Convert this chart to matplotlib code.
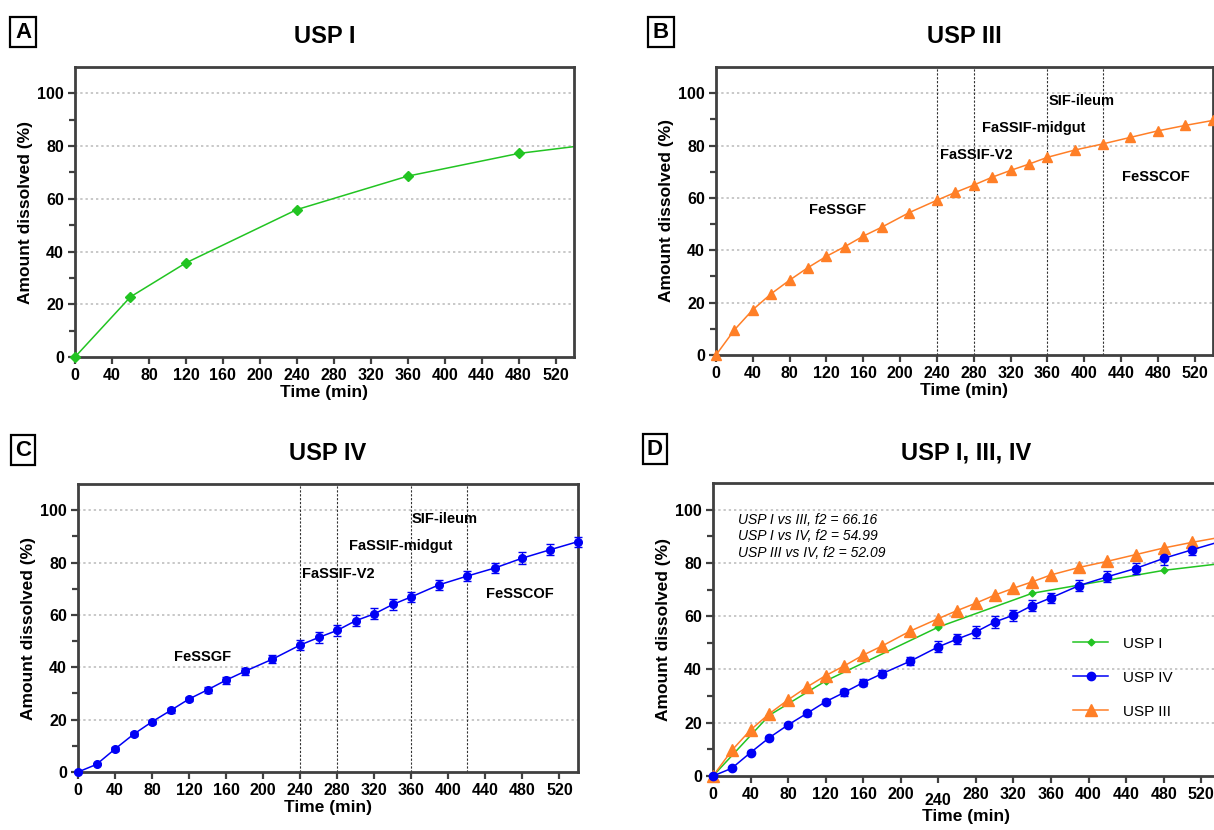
import numpy as np
import matplotlib
matplotlib.use("Agg")
import matplotlib.pyplot as plt
import matplotlib.transforms as mtransforms
from matplotlib.lines import Line2D

plt.rcParams['font.family'] = ['Liberation Sans', 'DejaVu Sans']

# ---- data ----
t_usp1 = [0, 60, 120, 240, 360, 480, 600]
usp1 = [0, 22.8, 35.7, 55.9, 68.6, 77.2, 82.4]

# panel D plots USP I at slightly different times
t_usp1_d = [0, 60, 120, 240, 340, 480, 600]
usp1_d = [0, 22.8, 35.7, 55.9, 68.6, 77.2, 82.2]

t_flow = [0, 20, 40, 60, 80, 100, 120, 140, 160, 180, 210, 240, 260, 280,
          300, 320, 340, 360, 390, 420, 450, 480, 510, 540]
usp3 = [0, 9.6, 17.3, 23.4, 28.6, 33.4, 37.7, 41.4, 45.4, 48.8, 54.4, 59.1,
        62.1, 64.9, 67.9, 70.5, 72.9, 75.5, 78.3, 80.6, 83.1, 85.6, 87.7, 89.6]
usp4 = [0, 2.9, 8.8, 14.4, 19.2, 23.5, 27.9, 31.4, 35.1, 38.4, 43.1, 48.5,
        51.4, 54.1, 57.8, 60.4, 64.0, 66.9, 71.5, 74.8, 77.9, 81.7, 84.9, 88.0]
usp4_err = [0.3, 0.4, 0.6, 0.7, 0.7, 0.8, 0.9, 1.2, 1.3, 1.4, 1.6, 2.0,
            2.0, 2.2, 2.1, 2.1, 2.2, 1.8, 2.0, 2.0, 2.0, 2.3, 2.0, 1.9]

media_lines = [240, 280, 360, 420]
media_labels = ["FeSSGF", "FaSSIF-V2", "FaSSIF-midgut", "SIF-ileum", "FeSSCOF"]
media_pos_b = [(132, 55.3), (283, 76.3), (345, 86.6), (397, 97.0), (478, 68.0)]
media_pos_c = [(135, 43.9), (281, 75.6), (349, 86.3), (396, 96.6), (477, 68.0)]

f2_text = ["USP I vs III, f2 = 66.16",
           "USP I vs IV, f2 = 54.99",
           "USP III vs IV, f2 = 52.09"]

green = '#22c422'
orange = '#ff7f27'
blue = '#0000f5'
spine_col = '#404040'

W, H = 1214, 830
fig = plt.figure(figsize=(W / 100, H / 100), dpi=100)


def make_axes(left, right, top, bottom):
    return fig.add_axes([left / W, 1 - bottom / H, (right - left) / W, (bottom - top) / H])


def style(ax, title):
    ax.set_xlim(0, 540)
    ax.set_ylim(0, 110)
    ax.set_xticks(np.arange(0, 521, 40))
    ax.set_yticks(np.arange(0, 101, 20))
    ax.set_yticks(np.arange(10, 101, 20), minor=True)
    for s in ax.spines.values():
        s.set_color(spine_col)
        s.set_linewidth(2.0)
    ax.tick_params(which='both', direction='out', color=spine_col, width=1.6)
    ax.tick_params(which='major', length=5, labelsize=11.5, pad=3)
    ax.tick_params(which='minor', length=4)
    for lab in ax.get_xticklabels() + ax.get_yticklabels():
        lab.set_fontweight('bold')
    for y in range(20, 101, 20):
        ax.axhline(y, color='#c8c8c8', lw=1.4, ls=(0, (1.2, 1.5)), zorder=0)
    ax.set_xlabel("Time (min)", fontsize=12.5, fontweight='bold', labelpad=1)
    ax.set_ylabel("Amount dissolved (%)", fontsize=12.5, fontweight='bold', labelpad=3)
    ax.set_title(title, fontsize=17, fontweight='bold', pad=17)


def panel_letter(x, y, letter):
    fig.text(x / W, 1 - y / H, letter, fontsize=16, fontweight='bold', ha='center', va='center',
             bbox=dict(boxstyle='square,pad=0.2', fc='white', ec='black', lw=1.6))


def media(ax, positions):
    for x in media_lines:
        ax.axvline(x, color='#333333', lw=0.8, ls=(0, (2, 1.5)), zorder=1)
    for lab, (x, y) in zip(media_labels, positions):
        ax.text(x, y, lab, fontsize=10.5, fontweight='bold', ha='center', va='center')


# A
axA = make_axes(75, 574, 67, 357)
axA.plot(t_usp1, usp1, color=green, lw=1.1)
axA.plot(t_usp1[:-1], usp1[:-1], color=green, marker='D', ms=5.5, ls='none', clip_on=False, zorder=3)
style(axA, "USP I")
panel_letter(23, 32, "A")

# B
axB = make_axes(716, 1213, 67, 355)
axB.plot(t_flow, usp3, color=orange, marker='^', ms=7.5, lw=1.1, clip_on=False, zorder=3)
media(axB, media_pos_b)
style(axB, "USP III")
panel_letter(661, 32, "B")

# C
axC = make_axes(78, 578, 484, 772)
axC.errorbar(t_flow, usp4, yerr=usp4_err, color=blue, marker='o', ms=5.5, lw=1.1,
             capsize=3, elinewidth=1.0, clip_on=False, zorder=3)
media(axC, media_pos_c)
style(axC, "USP IV")
panel_letter(23, 450, "C")

# D
axD = make_axes(713, 1220, 483, 776)
axD.plot(t_usp1_d, usp1_d, color=green, lw=1.1)
axD.plot(t_usp1_d[:-1], usp1_d[:-1], color=green, marker='D', ms=3.5, ls='none', clip_on=False, zorder=3)
axD.errorbar(t_flow, usp4, yerr=usp4_err, color=blue, marker='o', ms=6, lw=1.1,
             capsize=3, elinewidth=1.0, clip_on=False, zorder=3)
axD.plot(t_flow, usp3, color=orange, marker='^', ms=8, lw=1.1, clip_on=False, zorder=3)
style(axD, "USP I, III, IV")
for i, line in enumerate(f2_text):
    axD.text(27, 96.2 - 6.2 * i, line, fontsize=10, style='italic', ha='left', va='center')
handles = [Line2D([], [], color=green, marker='D', ms=3.5, lw=1.1),
           Line2D([], [], color=blue, marker='o', ms=6, lw=1.1),
           Line2D([], [], color=orange, marker='^', ms=8, lw=1.1)]
axD.legend(handles, ['USP I', 'USP IV', 'USP III'], loc='upper left', frameon=False,
           bbox_to_anchor=(0.71, 0.475), fontsize=11, labelspacing=1.3,
           handlelength=2.3, handletextpad=1.0, borderpad=0, borderaxespad=0)
# the 240 label sits a little lower in the original
lab240 = axD.get_xticklabels()[6]
lab240.set_transform(lab240.get_transform() +
                     mtransforms.ScaledTranslation(0, -4 / 72, fig.dpi_scale_trans))
panel_letter(655, 449, "D")

fig.savefig("out.png", dpi=100)
